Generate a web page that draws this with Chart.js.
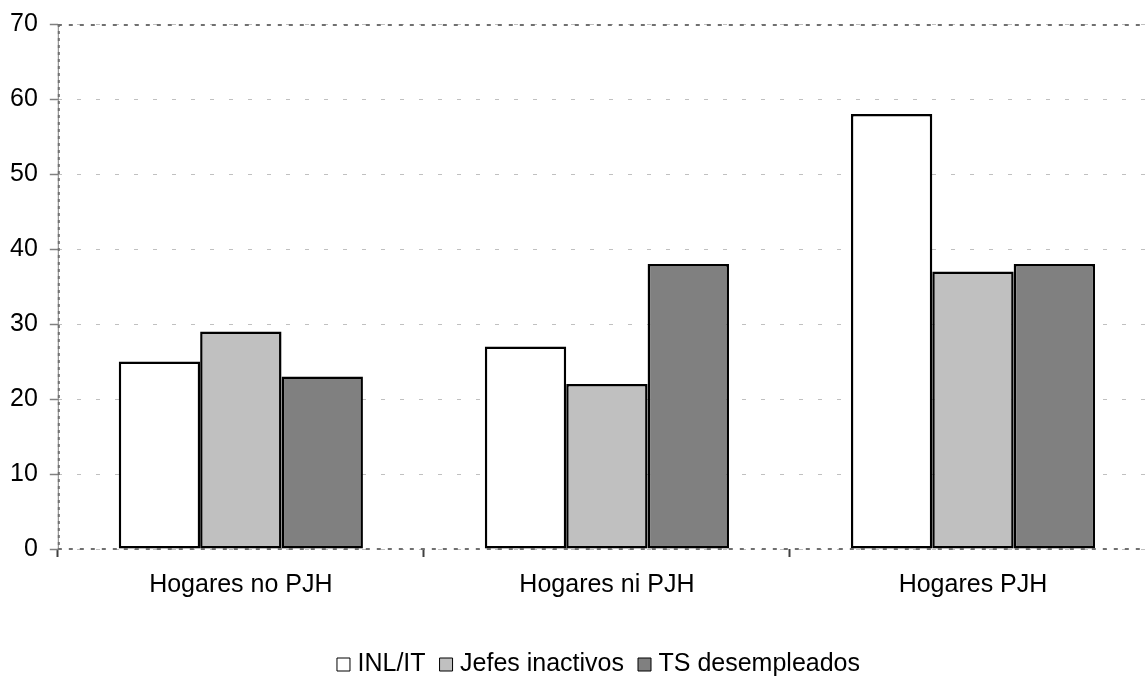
<!DOCTYPE html>
<html>
<head>
<meta charset="utf-8">
<script src="https://cdn.jsdelivr.net/npm/chart.js@4"></script>
<style>
  html, body { margin: 0; padding: 0; background: #fff; overflow: hidden; }
  #wrap { width: 1160px; height: 681px; }
</style>
</head>
<body>
<div id="wrap"><canvas id="c" width="1160" height="681"></canvas></div>
<script>
const categories = ['Hogares no PJH', 'Hogares ni PJH', 'Hogares PJH'];
const seriesNames = ['INL/IT', 'Jefes inactivos', 'TS desempleados'];
const inlIt = [25, 27, 58];
const jefesInactivos = [29, 22, 37];
const tsDesempleados = [23, 38, 38];
const yTicks = [0, 10, 20, 30, 40, 50, 60, 70];
const fills = ['#ffffff', '#c0c0c0', '#808080'];

const FONT = "'Liberation Sans', Arial, sans-serif";
const FS = 25;

const axisLines = {
  id: 'axisLines',
  afterLayout(chart) {
    const lg = chart.legend;
    if (lg) { lg.left += 24; lg.right += 24; }
  },
  afterDatasetsDraw(chart) {
    const {ctx, chartArea: a} = chart;
    ctx.save();
    ctx.strokeStyle = '#808080';
    ctx.lineWidth = 1;
    ctx.beginPath(); ctx.moveTo(a.left + 0.5, a.top); ctx.lineTo(a.left + 0.5, a.bottom); ctx.stroke();
    ctx.lineWidth = 2;
    ctx.setLineDash([3, 4]);
    ctx.strokeStyle = '#707070';
    ctx.beginPath(); ctx.moveTo(a.left + 1, a.top); ctx.lineTo(a.left + 1, a.bottom); ctx.stroke();
    ctx.setLineDash([4, 7]);
    ctx.beginPath(); ctx.moveTo(a.left, a.top + 1); ctx.lineTo(a.right, a.top + 1); ctx.stroke();
    ctx.beginPath(); ctx.moveTo(a.left, a.bottom); ctx.lineTo(a.right, a.bottom); ctx.stroke();
    ctx.restore();
  }
};

new Chart(document.getElementById('c'), {
  type: 'bar',
  data: {
    labels: categories,
    datasets: [
      { label: seriesNames[0], data: inlIt, backgroundColor: fills[0] },
      { label: seriesNames[1], data: jefesInactivos, backgroundColor: fills[1] },
      { label: seriesNames[2], data: tsDesempleados, backgroundColor: fills[2] }
    ].map(d => Object.assign(d, {
      borderColor: '#000000', borderWidth: 2.5, borderSkipped: false,
      categoryPercentage: 0.667, barPercentage: 1.0
    }))
  },
  options: {
    responsive: false,
    animation: false,
    devicePixelRatio: 1,
    layout: { padding: { left: -2, right: 4, top: 24, bottom: -6 } },
    font: { family: FONT },
    plugins: {
      tooltip: { enabled: false },
      legend: {
        position: 'bottom',
        labels: {
          font: { family: FONT, size: FS },
          color: '#000',
          usePointStyle: true,
          boxWidth: 3,
          boxHeight: 13,
          padding: 19,
          generateLabels(chart) {
            const items = Chart.defaults.plugins.legend.labels.generateLabels(chart);
            items.forEach(it => { it.lineWidth = 1; it.strokeStyle = '#000'; it.pointStyle = 'rect'; });
            return items;
          }
        }
      }
    },
    scales: {
      x: {
        grid: {
          display: true, drawOnChartArea: false, drawTicks: true,
          tickLength: 8, tickColor: '#404040', tickWidth: 2, offset: true
        },
        border: { display: false },
        ticks: { font: { family: FONT, size: FS }, color: '#000', padding: 13.5 },
        afterFit(scale) { scale.height += 19; }
      },
      y: {
        min: 0, max: 70,
        afterBuildTicks(scale) { scale.ticks = yTicks.map(v => ({ value: v })); },
        afterFit(scale) { scale.paddingTop = 0; },
        grid: {
          color: '#c0c0c0', lineWidth: 1,
          tickLength: 8, tickColor: '#808080', tickWidth: 1.5
        },
        border: { display: false, dash: [4, 15] },
        ticks: { font: { family: FONT, size: FS }, color: '#000', padding: 12 }
      }
    }
  },
  plugins: [axisLines]
});
</script>
</body>
</html>
